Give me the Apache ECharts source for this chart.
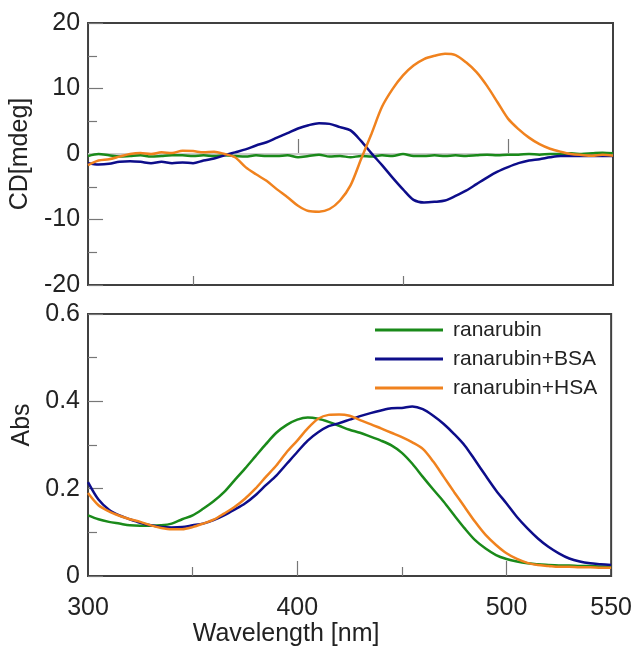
<!DOCTYPE html>
<html>
<head>
<meta charset="utf-8">
<script src="https://cdn.jsdelivr.net/npm/echarts@6/dist/echarts.min.js"></script>
<style>
  html, body { margin: 0; padding: 0; background: #fff; }
  #chart-container { width: 635px; height: 648px; }
</style>
</head>
<body>
<div id="chart-container"></div>
<script>
// wavelength grid [nm]
const wavelengths = [
  300, 305, 310, 315, 320, 325, 330, 335, 340, 345,
  350, 355, 360, 365, 370, 375, 380, 385, 390, 395,
  400, 405, 410, 415, 420, 425, 430, 435, 440, 445,
  450, 455, 460, 465, 470, 475, 480, 485, 490, 495,
  500, 505, 510, 515, 520, 525, 530, 535, 540, 545, 550
];

const seriesNames = ['ranarubin', 'ranarubin+BSA', 'ranarubin+HSA'];

// CD [mdeg]
const cdFree = [
  -0.3, 0.0, -0.2, -0.4, -0.3, -0.2, -0.4, -0.3, -0.2, -0.2,
  -0.3, -0.2, -0.3, -0.2, -0.3, -0.4, -0.2, -0.3, -0.3, -0.2,
  -0.5, -0.3, -0.1, -0.4, -0.3, -0.5, -0.3, -0.4, -0.2, -0.3,
  0.0, -0.3, -0.3, -0.2, -0.3, -0.2, -0.3, -0.2, -0.1, -0.2,
  -0.1, -0.1, 0.0, -0.1, 0.0, 0.0, 0.1, 0.0, 0.1, 0.2, 0.1
];
const cdBSA = [
  -1.4, -1.6, -1.5, -1.2, -1.1, -1.2, -1.4, -1.2, -1.4, -1.3,
  -1.4, -1.0, -0.7, -0.2, 0.25, 0.7, 1.3, 1.8, 2.5, 3.2,
  3.9, 4.4, 4.7, 4.6, 4.1, 3.6, 2.0, 0.1, -1.7, -3.6,
  -5.4, -7.0, -7.4, -7.3, -7.1, -6.4, -5.6, -4.6, -3.6, -2.7,
  -2.0, -1.4, -1.0, -0.8, -0.5, -0.3, -0.3, -0.3, -0.3, -0.3, -0.3
];
const cdHSA = [
  -1.7, -1.0, -0.8, -0.4, 0.0, 0.15, 0.0, 0.25, 0.15, 0.5,
  0.45, 0.25, 0.35, 0.0, -0.5, -2.0, -3.1, -4.1, -5.4, -6.6,
  -7.9, -8.7, -8.8, -8.4, -7.1, -4.8, -0.8, 3.1, 7.2, 9.9,
  12.0, 13.5, 14.5, 15.0, 15.3, 15.1, 14.0, 12.5, 10.4, 7.9,
  5.4, 3.8, 2.5, 1.5, 0.8, 0.35, 0.0, -0.15, -0.25, -0.1, -0.25
];

// Absorbance
const absFree = [
  0.139, 0.130, 0.124, 0.120, 0.116, 0.115, 0.115, 0.116, 0.120, 0.130,
  0.139, 0.154, 0.171, 0.192, 0.219, 0.246, 0.274, 0.302, 0.328, 0.346,
  0.358, 0.363, 0.360, 0.353, 0.344, 0.335, 0.328, 0.319, 0.310, 0.299,
  0.282, 0.257, 0.227, 0.198, 0.170, 0.139, 0.109, 0.082, 0.063, 0.048,
  0.039, 0.033, 0.029, 0.027, 0.025, 0.024, 0.024, 0.023, 0.023, 0.022, 0.022
];
const absBSA = [
  0.215, 0.175, 0.152, 0.139, 0.130, 0.122, 0.116, 0.112, 0.111, 0.112,
  0.116, 0.120, 0.128, 0.139, 0.152, 0.166, 0.185, 0.208, 0.230, 0.257,
  0.284, 0.310, 0.329, 0.343, 0.350, 0.358, 0.366, 0.373, 0.379, 0.384,
  0.385, 0.388, 0.382, 0.367, 0.348, 0.325, 0.299, 0.265, 0.230, 0.196,
  0.166, 0.135, 0.109, 0.086, 0.067, 0.052, 0.040, 0.033, 0.029, 0.027, 0.025
];
const absHSA = [
  0.190, 0.162, 0.148, 0.138, 0.130, 0.124, 0.116, 0.110, 0.107, 0.107,
  0.112, 0.120, 0.129, 0.143, 0.158, 0.177, 0.200, 0.227, 0.253, 0.284,
  0.310, 0.338, 0.360, 0.369, 0.370, 0.367, 0.357, 0.348, 0.338, 0.328,
  0.318, 0.306, 0.291, 0.262, 0.227, 0.192, 0.158, 0.124, 0.094, 0.071,
  0.052, 0.039, 0.030, 0.025, 0.023, 0.021, 0.021, 0.020, 0.020, 0.019, 0.019
];

// tick positions / labels on the wavelength axis
const xMajorTicks = [400, 500];
const xMinorTicks = [350, 450];
const xLabels = [300, 400, 500, 550];

const colors = ['#1a8a1a', '#0d0d8a', '#f0821e'];
const font = "'Liberation Sans', Arial, sans-serif";

const chartDom = document.getElementById('chart-container');
const myChart = echarts.init(chartDom, null, { renderer: 'canvas' });

function pairs(ys) {
  return wavelengths.map((x, i) => [x, ys[i]]);
}

function xAxisPair(gridIndex, withLabels) {
  const main = {
    type: 'value', gridIndex: gridIndex, position: 'bottom',
    min: 300, max: 550,
    axisLine: { show: false },
    splitLine: { show: false },
    axisTick: { show: true, inside: true, length: 15, customValues: xMajorTicks,
      lineStyle: { color: '#777', width: 1.2 } },
    axisLabel: { show: withLabels, customValues: xLabels, margin: 20,
      fontSize: 25, fontFamily: font, color: '#222' }
  };
  if (withLabels) {
    main.name = 'Wavelength [nm]';
    main.nameLocation = 'middle';
    main.nameGap = 44;
    main.nameTextStyle = { fontSize: 25, fontFamily: font, color: '#222', padding: [0, 127, 0, 0] };
  }
  const minor = {
    type: 'value', gridIndex: gridIndex, position: 'bottom',
    min: 300, max: 550,
    axisLine: { show: false },
    splitLine: { show: false },
    axisTick: { show: true, inside: true, length: 9, customValues: xMinorTicks,
      lineStyle: { color: '#777', width: 1.2 } },
    axisLabel: { show: false }
  };
  return [main, minor];
}

function yAxis(gridIndex, min, max, interval, name, namePadding) {
  return {
    type: 'value', gridIndex: gridIndex,
    min: min, max: max, interval: interval,
    axisLine: { show: false },
    splitLine: { show: false },
    axisTick: { show: true, inside: true, length: 15, lineStyle: { color: '#777', width: 1.2 } },
    minorTick: { show: true, splitNumber: 2, length: 9, lineStyle: { color: '#777', width: 1.2 } },
    axisLabel: { margin: 8, fontSize: 25, fontFamily: font, color: '#222' },
    name: name, nameLocation: 'middle', nameGap: 46,
    nameTextStyle: { fontSize: 25, fontFamily: font, color: '#222', padding: namePadding }
  };
}

function lineSeries(name, ys, axisIdx, color) {
  return {
    name: name, type: 'line',
    xAxisIndex: axisIdx * 2, yAxisIndex: axisIdx,
    data: pairs(ys),
    showSymbol: false, smooth: 0.3,
    lineStyle: { color: color, width: 2.5 },
    itemStyle: { color: color },
    z: 3
  };
}

const topSeries = [
  lineSeries(seriesNames[0], cdFree, 0, colors[0]),
  lineSeries(seriesNames[1], cdBSA, 0, colors[1]),
  lineSeries(seriesNames[2], cdHSA, 0, colors[2])
];
// faint zero line behind the CD traces
topSeries[0].markLine = {
  silent: true, symbol: 'none', label: { show: false },
  lineStyle: { color: '#cccccc', width: 2, type: 'solid' },
  data: [{ yAxis: 0 }],
  z: 1
};

const option = {
  animation: false,
  backgroundColor: '#fff',
  grid: [
    { left: 88, top: 23, width: 525, height: 262, show: true, borderColor: '#404040', borderWidth: 2, backgroundColor: 'transparent' },
    { left: 88, top: 314, width: 525, height: 262, show: true, borderColor: '#404040', borderWidth: 2, backgroundColor: 'transparent' }
  ],
  xAxis: [].concat(xAxisPair(0, false), xAxisPair(1, true)),
  yAxis: [
    yAxis(0, -20, 20, 10, 'CD[mdeg]', [0, 0, 0, 0]),
    yAxis(1, 0, 0.6, 0.2, 'Abs', [0, 0, 0, 40])
  ],
  legend: {
    data: seriesNames,
    orient: 'vertical',
    left: 375, top: 318,
    padding: 0,
    itemGap: 5,
    icon: 'rect',
    itemWidth: 68, itemHeight: 3,
    textStyle: { fontSize: 21, fontFamily: font, color: '#222', padding: [0, 0, 0, 5], lineHeight: 24 }
  },
  series: topSeries.concat([
    lineSeries(seriesNames[0], absFree, 1, colors[0]),
    lineSeries(seriesNames[1], absBSA, 1, colors[1]),
    lineSeries(seriesNames[2], absHSA, 1, colors[2])
  ])
};

myChart.setOption(option);
</script>
</body>
</html>
